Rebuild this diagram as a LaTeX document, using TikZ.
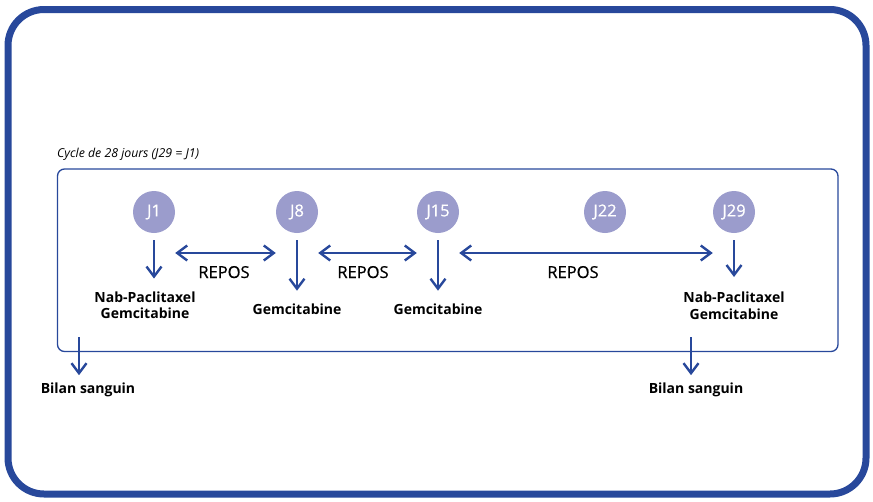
\documentclass[tikz,border=0pt]{standalone}
\usepackage{fontspec}
\setmainfont{Open Sans}
\usetikzlibrary{arrows.meta}
\definecolor{cycleblue}{RGB}{40,72,155}
\definecolor{daylilac}{RGB}{155,156,204}

\begin{document}
\begin{tikzpicture}[x=1pt,y=-1pt,
  day/.style={circle, fill=daylilac, minimum size=42pt, inner sep=0pt, text=white, font=\fontsize{16.5}{19}\selectfont\addfontfeature{FakeBold=0.6}},
  dose/.style={font=\fontsize{14}{16.5}\selectfont\bfseries, align=center, inner sep=0pt, anchor=north},
  rest/.style={font=\fontsize{16.5}{19}\selectfont\addfontfeature{FakeBold=0.6}, inner sep=0pt, anchor=base},
  arr/.style={draw=cycleblue, line width=2.4pt, -{Straight Barb[length=10pt,width=15pt]}},
  darr/.style={draw=cycleblue, line width=2.4pt, {Straight Barb[length=10pt,width=15pt]}-{Straight Barb[length=10pt,width=15pt]}}]

\useasboundingbox (0,0) rectangle (873,501);

% Outer frame
\draw[cycleblue, line width=7pt, rounded corners=36pt] (8,9.5) rectangle (866,494);

% Cycle box and caption
\node[font=\fontsize{12.3}{14}\selectfont\itshape, anchor=base west, inner sep=0pt] (title) at (57,157) {Cycle de 28 jours (J29 = J1)};
\draw[cycleblue, line width=1.3pt, rounded corners=7pt] (57.5,169) rectangle (838,351.5);

% Days
\node[day] (j1) at (154,212) {J1};
\node[day] (j8) at (297,212) {J8};
\node[day] (j15) at (438,212) {J15};
\node[day] (j22) at (605,212) {J22};
\node[day] (j29) at (734,212) {J29};

% Treatments
\node[dose] (d1) at (145,291.5) {Nab-Paclitaxel\\Gemcitabine};
\node[dose] (d8) at (297,303.7) {Gemcitabine};
\node[dose] (d15) at (438,303.7) {Gemcitabine};
\node[dose] (d29) at (734,292) {Nab-Paclitaxel\\Gemcitabine};

\draw[arr, shorten <=7pt, shorten >=13pt] (j1.south) -- (j1.south |- d1.north);
\draw[arr, shorten <=7pt, shorten >=13pt] (j8.south) -- (j8.south |- d8.north);
\draw[arr, shorten <=7pt, shorten >=13pt] (j15.south) -- (j15.south |- d15.north);
\draw[arr, shorten <=7pt, shorten >=15pt] (j29.south) -- (j29.south |- d29.north);

% Rest periods
\coordinate (rl) at (0,253);
\draw[darr] (j1.east |- rl) -- (j8.west |- rl);
\draw[darr] (j8.east |- rl) -- (j15.west |- rl);
\draw[darr] (j15.east |- rl) -- (j29.west |- rl);

\node[rest] (r1) at (224,278) {REPOS};
\node[rest] (r2) at (363,278) {REPOS};
\node[rest] (r3) at (573,278) {REPOS};

% Blood tests
\coordinate (b1) at (79,337);
\coordinate (b29) at (691,337);
\node[dose, anchor=base] (bilan1) at (88,393) {Bilan sanguin};
\node[dose, anchor=base] (bilan29) at (696,393) {Bilan sanguin};
\draw[arr, shorten >=7pt] (b1) -- (b1 |- bilan1.north);
\draw[arr, shorten >=7pt] (b29) -- (b29 |- bilan29.north);

\end{tikzpicture}
\end{document}
